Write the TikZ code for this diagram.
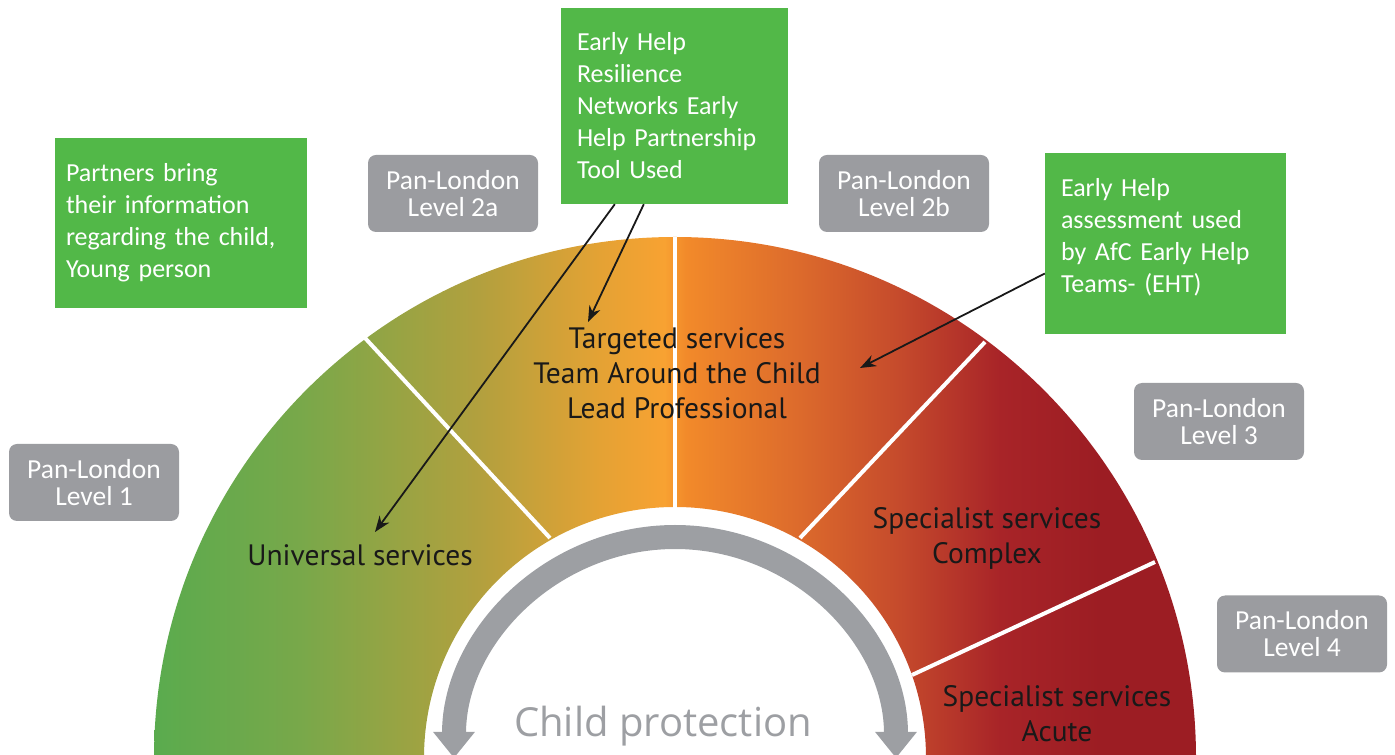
\documentclass[tikz,border=0pt]{standalone}
\usepackage{fontspec}
\setmainfont{Carlito}
\newfontfamily\segfont{PT Sans}
\newfontfamily\boxfont{Carlito}
\newfontfamily\ringfont{Open Sans}
\usetikzlibrary{arrows.meta,positioning,calc}

\definecolor{boxgreen}{HTML}{52B848}
\definecolor{boxgrey}{HTML}{9B9CA0}
\definecolor{ringgrey}{HTML}{9D9FA3}
\definecolor{lvA}{HTML}{5AAB4E}
\definecolor{lvB}{HTML}{78A84A}
\definecolor{lvC}{HTML}{B2A03E}
\definecolor{lvD}{HTML}{E4A234}
\definecolor{lvE}{HTML}{F8A232}
\definecolor{lvF}{HTML}{F28A2A}
\definecolor{lvG}{HTML}{DC6A2C}
\definecolor{lvH}{HTML}{C54A2C}
\definecolor{lvI}{HTML}{A82428}
\definecolor{lvJ}{HTML}{9C1D23}

% green -> orange -> red across the band
\pgfdeclarehorizontalshading{levels}{100bp}{color(0bp)=(lvA); color(25bp)=(lvA);
  color(32bp)=(lvB); color(40.6bp)=(lvC); color(46.4bp)=(lvD); color(49.5bp)=(lvE);
  color(50.5bp)=(lvF); color(56bp)=(lvG); color(60.8bp)=(lvH); color(65.6bp)=(lvI);
  color(70.4bp)=(lvJ); color(75bp)=(lvJ); color(100bp)=(lvJ)}

\begin{document}
\begin{tikzpicture}[x=1pt,y=1pt,
    greenbox/.style={rectangle, fill=boxgreen, text=white, inner xsep=16pt, inner ysep=0pt,
        font=\boxfont\fontsize{26}{32}\selectfont, align=left},
    levelbox/.style={rectangle, rounded corners=8pt, fill=boxgrey, text=white,
        minimum width=170pt, minimum height=77pt, align=center,
        font=\boxfont\fontsize{27.5}{27}\selectfont},
    seglabel/.style={font=\segfont\fontsize{29.5}{35}\selectfont, align=center, text=black!90},
    divider/.style={white, line width=4pt},
    pointer/.style={-{Stealth[length=16pt,width=12pt]}, line width=1.8pt, draw=black!90}
]
    \useasboundingbox (0,0) rectangle (1395,755);
    \clip (0,0) rectangle (1395,755);
    \coordinate (C) at (675,-3);

    % coloured band
    \shade[shading=levels] ([xshift=-521pt]C) arc[start angle=180, end angle=0, radius=521]
        -- ([xshift=251pt]C) arc[start angle=0, end angle=180, radius=251] -- cycle;

    % dividers between the levels
    \draw[divider] (365,417) -- (550,217);
    \draw[divider] (675,518) -- (675,247);
    \draw[divider] (985,413) -- (800,217);
    \draw[divider] (1155,193) -- (912,80);

    % inner ring
    \draw[ringgrey, line width=24pt,
        {Triangle[width=40pt,length=26pt]}-{Triangle[width=40pt,length=26pt]}]
        ([xshift=-221pt]C) arc[start angle=180, end angle=0, radius=221];
    \node[font=\ringfont\fontsize{40}{42}\selectfont, text=ringgrey] (cp) at (663,29) {Child protection};

    % level labels
    \node[seglabel] (universal) at (360,200) {Universal services};
    \node[seglabel] (targeted) at (677,382) {Targeted services\\Team Around the Child\\Lead Professional};
    \node[seglabel] (complex) at (987,217) {Specialist services\\Complex};
    \node[seglabel] (acute) at (1057,41) {Specialist services\\Acute};

    % Pan-London levels
    \node[levelbox] (pl1) at (94,272.5) {Pan-London\\Level 1};
    \node[levelbox] (pl2a) at (453,561.5) {Pan-London\\Level 2a};
    \node[levelbox] (pl2b) at (904,561.5) {Pan-London\\Level 2b};
    \node[levelbox] (pl3) at (1219,333.5) {Pan-London\\Level 3};
    \node[levelbox] (pl4) at (1302,121) {Pan-London\\Level 4};

    % notes
    \node[greenbox, inner xsep=11pt, text width=230pt, minimum height=170pt] (partners) at (181,532)
        {Partners bring\\their information\\regarding the child,\\Young person};
    \node[greenbox, text width=195pt, minimum height=196pt] (resilience) at (674.5,649)
        {Early Help\\Resilience\\Networks Early\\Help Partnership\\Tool Used};
    \node[greenbox, text width=209pt, minimum height=181pt] (assessment) at (1165.5,511.5)
        {Early Help\\assessment used\\by AfC Early Help\\Teams- (EHT)\\[-16pt]\mbox{}};

    % pointers
    \coordinate (tipU) at (375,223);
    \coordinate (tipT) at (588,433);
    \coordinate (tipA) at (860,387);
    \draw[pointer] ([xshift=54pt]resilience.south west) -- (tipU);
    \draw[pointer] ([xshift=83pt]resilience.south west) -- (tipT);
    \draw[pointer] ([yshift=-30pt]assessment.west) -- (tipA);
\end{tikzpicture}
\end{document}
